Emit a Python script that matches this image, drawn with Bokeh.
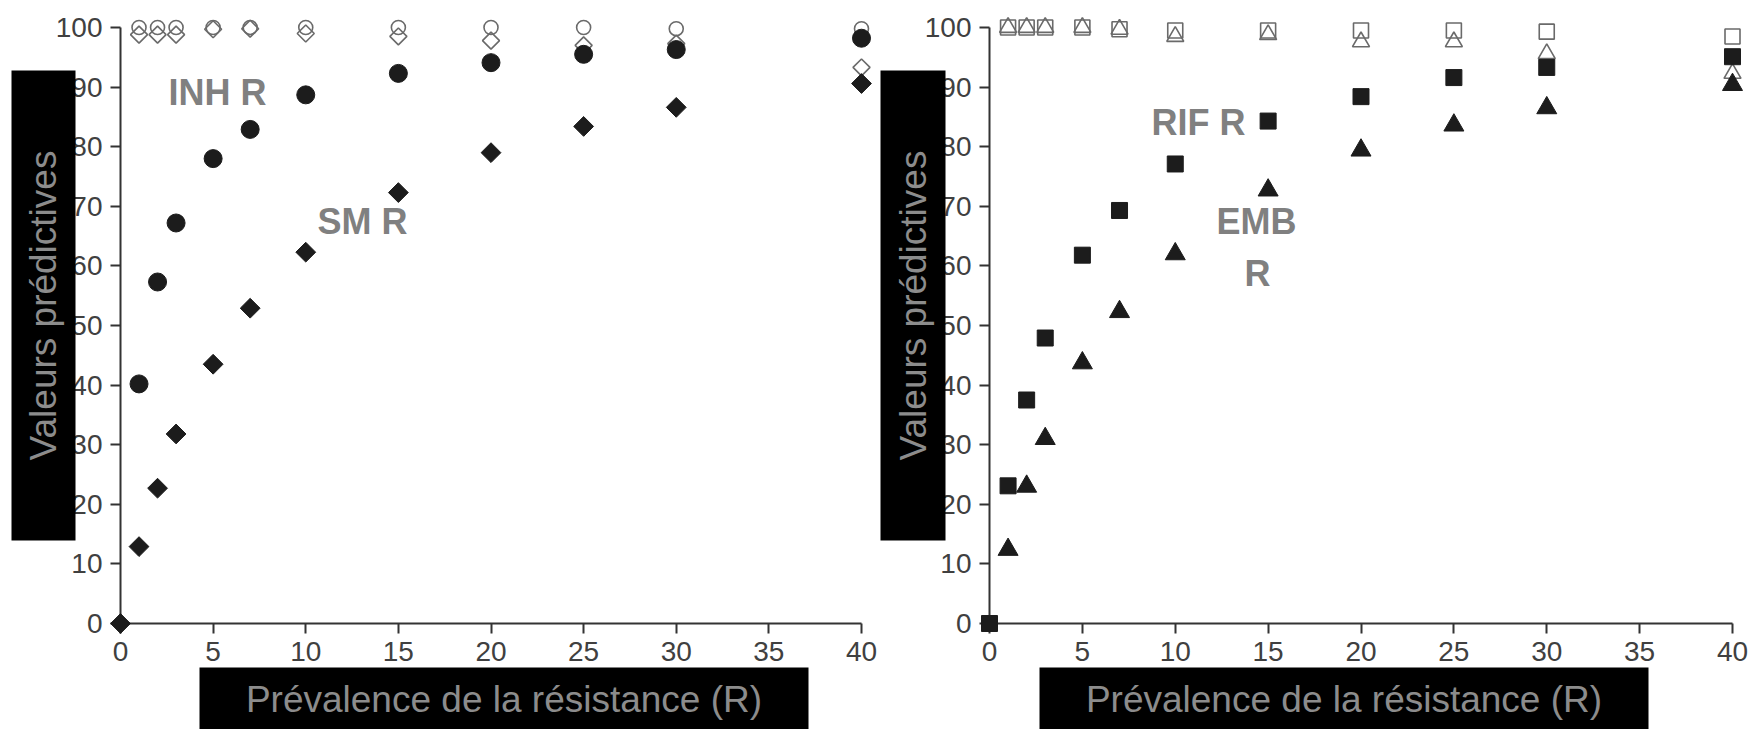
from math import pi
from bokeh.plotting import figure
from bokeh.models import Label, Range1d, FixedTicker
from bokeh.layouts import row
from bokeh.embed import file_html
from bokeh.resources import INLINE
from bokeh.core.properties import value

# ---------------- data ----------------
prevalence = [1, 2, 3, 5, 7, 10, 15, 20, 25, 30, 40]
prevalence0 = [0, 1, 2, 3, 5, 7, 10, 15, 20, 25, 30, 40]

# left panel (INH / SM)
inh_npv = [100, 100, 100, 100, 100, 100, 100, 100, 100, 99.8, 99.8]
sm_npv = [98.8, 98.8, 98.8, 99.7, 99.8, 99.0, 98.5, 97.8, 97.0, 97.3, 93.3]
inh_ppv = [40.2, 57.3, 67.2, 78.0, 82.9, 88.7, 92.3, 94.1, 95.5, 96.3, 98.2]
sm_ppv = [0, 12.9, 22.7, 31.8, 43.5, 52.9, 62.3, 72.3, 79.0, 83.4, 86.6, 90.6]

# right panel (RIF / EMB)
rif_npv = [100, 100, 100, 100, 99.7, 99.5, 99.5, 99.5, 99.5, 99.3, 98.5]
emb_npv = [100, 100, 100, 100, 99.7, 98.5, 98.8, 97.6, 97.6, 95.6, 92.3]
rif_ppv = [0, 23.1, 37.5, 47.9, 61.8, 69.3, 77.1, 84.3, 88.4, 91.6, 93.3, 95.1]
emb_ppv = [12.4, 23.0, 31.0, 43.7, 52.3, 62.0, 72.7, 79.4, 83.6, 86.5, 90.4]

x_ticks = [0, 5, 10, 15, 20, 25, 30, 35, 40]
y_ticks = [0, 10, 20, 30, 40, 50, 60, 70, 80, 90, 100]
x_title = "Prévalence de la résistance (R)"
y_title = "Valeurs prédictives"

FONT = "Liberation Sans"
DARK = "#1c1c1c"
OPEN = "#6a6a6a"
AXIS = "#333333"
LABEL_GRAY = "#808080"
TITLE_GRAY = "#8c8c8c"

FIG_W, FIG_H = 879, 729
TOP, BOTTOM = 27, 106          # shared by both panels (row aligns the frames)
X0, X1, Y0, Y1 = 0, 40, 0, 100


def make_panel(left, right):
    p = figure(width=FIG_W, height=FIG_H, output_backend="svg", toolbar_location=None,
               x_range=Range1d(X0, X1), y_range=Range1d(Y0, Y1),
               min_border_left=left, min_border_right=right,
               min_border_top=TOP, min_border_bottom=BOTTOM)
    p.outline_line_color = None
    p.grid.visible = False
    p.background_fill_color = "white"
    p.border_fill_color = "white"
    for ax, ticks in ((p.xaxis[0], x_ticks), (p.yaxis[0], y_ticks)):
        ax.ticker = FixedTicker(ticks=ticks)
        ax.bounds = (ticks[0], ticks[-1])
        ax.axis_line_color = AXIS
        ax.axis_line_width = 2
        ax.major_tick_line_color = AXIS
        ax.major_tick_line_width = 2
        ax.major_tick_in = 0
        ax.major_tick_out = 10
        ax.minor_tick_line_color = None
        ax.major_label_text_font = FONT
        ax.major_label_text_font_size = "28px"
        ax.major_label_text_color = "#404040"
        ax.major_label_standoff = 8
    return p


def add_titles(p, left, right, ybox, xbox):
    """Black title boxes, given in canvas pixels, mapped into the panel's data space."""
    fw = FIG_W - left - right
    fh = FIG_H - TOP - BOTTOM

    def dx(px):
        return X0 + (px - left) * (X1 - X0) / fw

    def dy(py):
        return Y0 + (FIG_H - BOTTOM - py) * (Y1 - Y0) / fh

    boxes = [ybox, xbox]
    q = p.quad(left=[dx(b[0]) for b in boxes], right=[dx(b[1]) for b in boxes],
               top=[dy(b[2]) for b in boxes], bottom=[dy(b[3]) for b in boxes],
               fill_color="black", line_color=None)
    q.level = "overlay"
    t1 = p.text(x=[dx((ybox[0] + ybox[1]) / 2)], y=[dy((ybox[2] + ybox[3]) / 2)],
                text=[y_title], angle=pi / 2, text_align="center", text_baseline="middle",
                text_font=value(FONT), text_font_size="37px", text_color=TITLE_GRAY)
    t2 = p.text(x=[dx((xbox[0] + xbox[1]) / 2)], y=[dy(xbox[4])],
                text=[x_title], text_align="center", text_baseline="middle",
                text_font=value(FONT), text_font_size="37px", text_color=TITLE_GRAY)
    t1.level = "overlay"
    t2.level = "overlay"


def tag(p, x, y, t):
    p.add_layout(Label(x=x, y=y, text=t, text_align="center", text_baseline="middle",
                       text_color=LABEL_GRAY, text_font=FONT, text_font_size="36px",
                       text_font_style="bold"))


# ---------------- left panel ----------------
L1, R1 = 120, 18
p1 = make_panel(L1, R1)
r = [
    p1.scatter(prevalence, inh_npv, marker="circle", size=14, fill_color=None,
               line_color=OPEN, line_width=1.6),
    p1.scatter(prevalence, sm_npv, marker="square", angle=pi / 4, size=12, fill_color=None,
               line_color=OPEN, line_width=1.6),
    p1.scatter(prevalence, inh_ppv, marker="circle", size=18, fill_color=DARK, line_color=DARK),
    p1.scatter(prevalence0, sm_ppv, marker="square", angle=pi / 4, size=14, fill_color=DARK,
               line_color=DARK),
]
for g in r:
    g.level = "overlay"
tag(p1, 5.24, 89.1, "INH R")
tag(p1, 13.06, 67.4, "SM R")
add_titles(p1, L1, R1, (11, 75, 70, 540), (199, 808, 667, 740, 699))

# ---------------- right panel ----------------
L2, R2 = 110, 26
p2 = make_panel(L2, R2)
r = [
    p2.scatter(prevalence, rif_npv, marker="square", size=15, fill_color=None,
               line_color=OPEN, line_width=1.6),
    p2.scatter(prevalence, emb_npv, marker="triangle", size=17, fill_color=None,
               line_color=OPEN, line_width=1.6),
    p2.scatter(prevalence0, rif_ppv, marker="square", size=16, fill_color=DARK, line_color=DARK),
    p2.scatter(prevalence, emb_ppv, marker="triangle", size=20, fill_color=DARK, line_color=DARK),
]
for g in r:
    g.level = "overlay"
tag(p2, 11.25, 84.1, "RIF R")
tag(p2, 14.37, 67.4, "EMB")
tag(p2, 14.43, 58.7, "R")
add_titles(p2, L2, R2, (1, 66, 70, 540), (160, 769, 667, 740, 699))

layout = row(p1, p2)
open("out.html", "w").write(file_html(layout, INLINE))
